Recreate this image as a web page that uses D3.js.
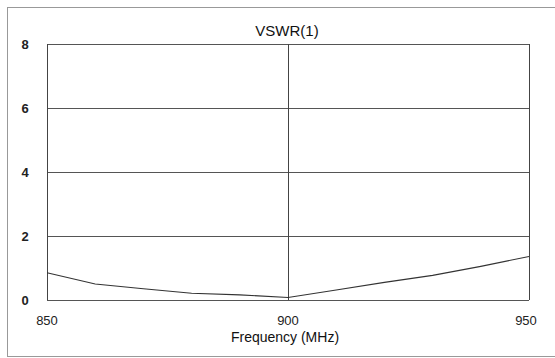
<!DOCTYPE html>
<html>
<head>
<meta charset="utf-8">
<script src="https://cdn.jsdelivr.net/npm/d3@7"></script>
<style>
  body { margin: 0; background: #fff; }
  svg { display: block; font-family: "Liberation Sans", Arial, sans-serif; }
</style>
</head>
<body>
<svg id="svg0" width="555" height="358"></svg>
<script>
var width = 555;
var height = 358;

// values
var freqs = [850, 860, 870, 880, 890, 900, 910, 920, 930, 940, 950];
var vswr = [0.85, 0.5, 0.35, 0.21, 0.16, 0.08, 0.31, 0.55, 0.77, 1.05, 1.36];
var xTicks = [850, 900, 950];
var yTicks = [0, 2, 4, 6, 8];

var plotLeft = 47, plotRight = 529, plotTop = 44, plotBottom = 300;

var svg0 = d3.select('#svg0');

// outer frame
svg0.append('rect')
    .attr('x', 7.5).attr('y', 7.5)
    .attr('width', 560).attr('height', 349)
    .attr('fill', 'none')
    .attr('stroke', '#999')
    .attr('stroke-width', 1);

var x = d3.scaleLinear().domain([850, 950]).range([plotLeft, plotRight]);
var y = d3.scaleLinear().domain([0, 8]).range([plotBottom, plotTop]);

// horizontal grid
svg0.append('g')
    .selectAll('line')
    .data(yTicks)
    .enter()
    .append('line')
    .attr('x1', plotLeft).attr('x2', plotRight)
    .attr('y1', function (d) { return Math.round(y(d)) + 0.5; })
    .attr('y2', function (d) { return Math.round(y(d)) + 0.5; })
    .attr('stroke', '#555');

// vertical grid
svg0.append('g')
    .selectAll('line')
    .data(xTicks)
    .enter()
    .append('line')
    .attr('x1', function (d) { return Math.round(x(d)) + 0.5; })
    .attr('x2', function (d) { return Math.round(x(d)) + 0.5; })
    .attr('y1', plotTop).attr('y2', plotBottom)
    .attr('stroke', '#444');

// y labels
svg0.append('g')
    .selectAll('text')
    .data(yTicks)
    .enter()
    .append('text')
    .attr('x', 25)
    .attr('y', function (d) { return y(d) + 5; })
    .attr('text-anchor', 'middle')
    .attr('font-size', 13)
    .attr('font-weight', 'bold')
    .attr('fill', '#222')
    .text(function (d) { return d; });

// x labels
svg0.append('g')
    .selectAll('text')
    .data(xTicks)
    .enter()
    .append('text')
    .attr('x', function (d) { return x(d) - (d === 950 ? 3 : 0); })
    .attr('y', 325)
    .attr('text-anchor', 'middle')
    .attr('font-size', 13)
    .attr('fill', '#222')
    .text(function (d) { return d; });

// the curve
var line = d3.line()
    .x(function (d, i) { return x(freqs[i]); })
    .y(function (d) { return y(d); });

svg0.append('path')
    .datum(vswr)
    .attr('d', line)
    .attr('fill', 'none')
    .attr('stroke', '#333')
    .attr('stroke-width', 1.1);

// title and axis label
svg0.append('text')
    .attr('x', 287).attr('y', 36)
    .attr('text-anchor', 'middle')
    .attr('font-size', 15)
    .attr('fill', '#111')
    .text('VSWR(1)');

svg0.append('text')
    .attr('x', 285).attr('y', 342)
    .attr('text-anchor', 'middle')
    .attr('font-size', 14)
    .attr('fill', '#111')
    .text('Frequency (MHz)');
</script>
</body>
</html>
